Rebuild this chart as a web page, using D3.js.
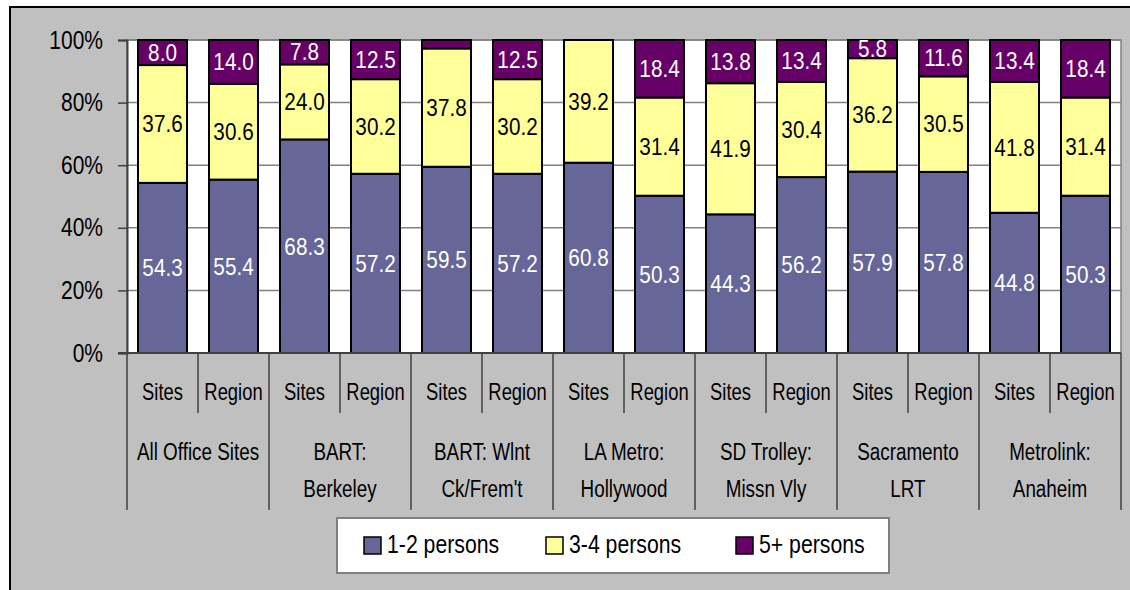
<!DOCTYPE html>
<html>
<head>
<meta charset="utf-8">
<script src="https://cdn.jsdelivr.net/npm/d3@7"></script>
<style>
  body { margin: 0; background: #fff; }
  svg { display: block; font-family: "Liberation Sans", Arial, sans-serif; }
</style>
</head>
<body>
<div id="graph-container"></div>
<script>
// categories
const groupLine1 = ["All Office Sites", "BART:", "BART: Wlnt", "LA Metro:", "SD Trolley:", "Sacramento", "Metrolink:"];
const groupLine2 = ["", "Berkeley", "Ck/Frem't", "Hollywood", "Missn Vly", "LRT", "Anaheim"];
const subs = ["Sites", "Region"];
const seriesKeys = ["1-2 persons", "3-4 persons", "5+ persons"];

// series values, in order Sites/Region for each group
const persons12 = [54.3, 55.4, 68.3, 57.2, 59.5, 57.2, 60.8, 50.3, 44.3, 56.2, 57.9, 57.8, 44.8, 50.3];
const persons34 = [37.6, 30.6, 24.0, 30.2, 37.8, 30.2, 39.2, 31.4, 41.9, 30.4, 36.2, 30.5, 41.8, 31.4];
const persons5 = [8.0, 14.0, 7.8, 12.5, 2.7, 12.5, 0.0, 18.4, 13.8, 13.4, 5.8, 11.6, 13.4, 18.4];

const yTicks = [0, 0.2, 0.4, 0.6, 0.8, 1];

const colors = ["#666699", "#FFFF99", "#660066"];
const textColors = ["#fff", "#000", "#fff"];

const width = 1130;
const height = 590;
const plot = { left: 127, right: 1121, top: 40, bottom: 353 };

const rows = persons12.map((d, i) => ({
  group: Math.floor(i / 2),
  sub: subs[i % 2],
  "1-2 persons": d,
  "3-4 persons": persons34[i],
  "5+ persons": persons5[i],
}));

// squeeze text horizontally (the original uses a narrow face)
function squeeze(sel, x, y, sx) {
  sel.attr("x", 0).attr("y", 0)
    .attr("transform", (d, i) => `translate(${x(d, i)},${y(d, i)}) scale(${sx},1)`);
}

const svg = d3
  .select("#graph-container")
  .append("svg")
  .attr("width", width)
  .attr("height", height);

// outer frame
svg.append("rect")
  .attr("x", 10).attr("y", 7)
  .attr("width", width).attr("height", height)
  .attr("fill", "#C0C0C0")
  .attr("stroke", "#000")
  .attr("stroke-width", 2);

const x0 = d3.scaleBand()
  .domain(d3.range(groupLine1.length))
  .range([plot.left, plot.right]);

const x1 = d3.scaleBand()
  .domain(subs)
  .range([0, x0.bandwidth()])
  .paddingInner(0.31)
  .paddingOuter(0.155);

const y = d3.scaleLinear().domain([0, 1]).range([plot.bottom, plot.top]);

// plot area
svg.append("rect")
  .attr("x", plot.left).attr("y", plot.top)
  .attr("width", plot.right - plot.left).attr("height", plot.bottom - plot.top)
  .attr("fill", "#fff")
  .attr("stroke", "#808080")
  .attr("stroke-width", 1.5);

// gridlines
svg.append("g")
  .selectAll("line")
  .data(yTicks)
  .join("line")
  .attr("x1", plot.left).attr("x2", plot.right)
  .attr("y1", (d) => y(d)).attr("y2", (d) => y(d))
  .attr("stroke", "#808080")
  .attr("stroke-width", 1.5);

// y axis
const yAxis = svg.append("g")
  .attr("transform", `translate(${plot.left},0)`)
  .call(d3.axisLeft(y).tickValues(yTicks).tickFormat(d3.format(".0%")).tickSize(9).tickPadding(15));
yAxis.select(".domain").attr("stroke", "#404040").attr("stroke-width", 2);
yAxis.selectAll(".tick line").attr("stroke", "#404040").attr("stroke-width", 1.5);
yAxis.selectAll(".tick text")
  .attr("font-family", null)
  .attr("font-size", 25)
  .attr("fill", "#000")
  .attr("x", -24 / 0.84)
  .attr("transform", "scale(0.84,1)");

// bars
const stack = d3.stack().keys(seriesKeys).offset(d3.stackOffsetExpand);
const series = stack(rows);

const barX = (d) => x0(d.data.group) + x1(d.data.sub);

const layers = svg.append("g")
  .selectAll("g")
  .data(series)
  .join("g")
  .attr("fill", (d, i) => colors[i]);

layers.selectAll("rect")
  .data((d) => d)
  .join("rect")
  .attr("x", barX)
  .attr("y", (d) => y(d[1]))
  .attr("width", x1.bandwidth())
  .attr("height", (d) => y(d[0]) - y(d[1]))
  .attr("stroke", "#000")
  .attr("stroke-width", 2);

// data labels
svg.append("g")
  .selectAll("g")
  .data(series)
  .join("g")
  .attr("fill", (d, i) => textColors[i])
  .selectAll("text")
  .data((s) => s.map((d) => ({ d, v: d.data[s.key] })).filter((o) => o.v >= 5))
  .join("text")
  .attr("dy", "0.36em")
  .attr("text-anchor", "middle")
  .attr("font-size", 23)
  .text((o) => o.v.toFixed(1))
  .call(squeeze, (o) => barX(o.d) + x1.bandwidth() / 2, (o) => (y(o.d[0]) + y(o.d[1])) / 2, 0.9);

// category axis
const axisColor = "#404040";
const catAxis = svg.append("g");
catAxis.append("line")
  .attr("x1", plot.left - 9).attr("x2", plot.right)
  .attr("y1", plot.bottom).attr("y2", plot.bottom)
  .attr("stroke", axisColor).attr("stroke-width", 2);

// long separators between groups
catAxis.selectAll("line.group-sep")
  .data(d3.range(groupLine1.length + 1))
  .join("line")
  .attr("class", "group-sep")
  .attr("x1", (i) => plot.left + i * x0.step()).attr("x2", (i) => plot.left + i * x0.step())
  .attr("y1", plot.bottom).attr("y2", 510)
  .attr("stroke", axisColor).attr("stroke-width", 1.5);

// short separators between Sites / Region
catAxis.selectAll("line.sub-sep")
  .data(d3.range(groupLine1.length))
  .join("line")
  .attr("class", "sub-sep")
  .attr("x1", (i) => x0(i) + x0.bandwidth() / 2).attr("x2", (i) => x0(i) + x0.bandwidth() / 2)
  .attr("y1", plot.bottom).attr("y2", 413)
  .attr("stroke", axisColor).attr("stroke-width", 1.5);

catAxis.selectAll("text.sub")
  .data(rows)
  .join("text")
  .attr("class", "sub")
  .attr("text-anchor", "middle")
  .attr("font-size", 23)
  .text((d) => d.sub)
  .call(squeeze, (d) => x0(d.group) + x1(d.sub) + x1.bandwidth() / 2, () => 400, 0.8);

catAxis.selectAll("text.g1")
  .data(groupLine1)
  .join("text")
  .attr("class", "g1")
  .attr("text-anchor", "middle")
  .attr("font-size", 23)
  .text((d) => d)
  .call(squeeze, (d, i) => x0(i) + x0.bandwidth() / 2, () => 460, 0.82);

catAxis.selectAll("text.g2")
  .data(groupLine2)
  .join("text")
  .attr("class", "g2")
  .attr("text-anchor", "middle")
  .attr("font-size", 23)
  .text((d) => d)
  .call(squeeze, (d, i) => x0(i) + x0.bandwidth() / 2, () => 497, 0.82);

// legend
const legend = svg.append("g");
legend.append("rect")
  .attr("x", 337).attr("y", 518)
  .attr("width", 552).attr("height", 55)
  .attr("fill", "#fff")
  .attr("stroke", "#808080")
  .attr("stroke-width", 2);

const legendX = [364, 546, 736];
const items = legend.selectAll("g.item")
  .data(seriesKeys)
  .join("g")
  .attr("class", "item")
  .attr("transform", (d, i) => `translate(${legendX[i]},537)`);

items.append("rect")
  .attr("width", 17).attr("height", 17)
  .attr("fill", (d, i) => colors[i])
  .attr("stroke", "#000")
  .attr("stroke-width", 1.5);

items.append("text")
  .attr("font-size", 25)
  .text((d) => d)
  .call(squeeze, () => 23, () => 16, 0.85);
</script>
</body>
</html>
